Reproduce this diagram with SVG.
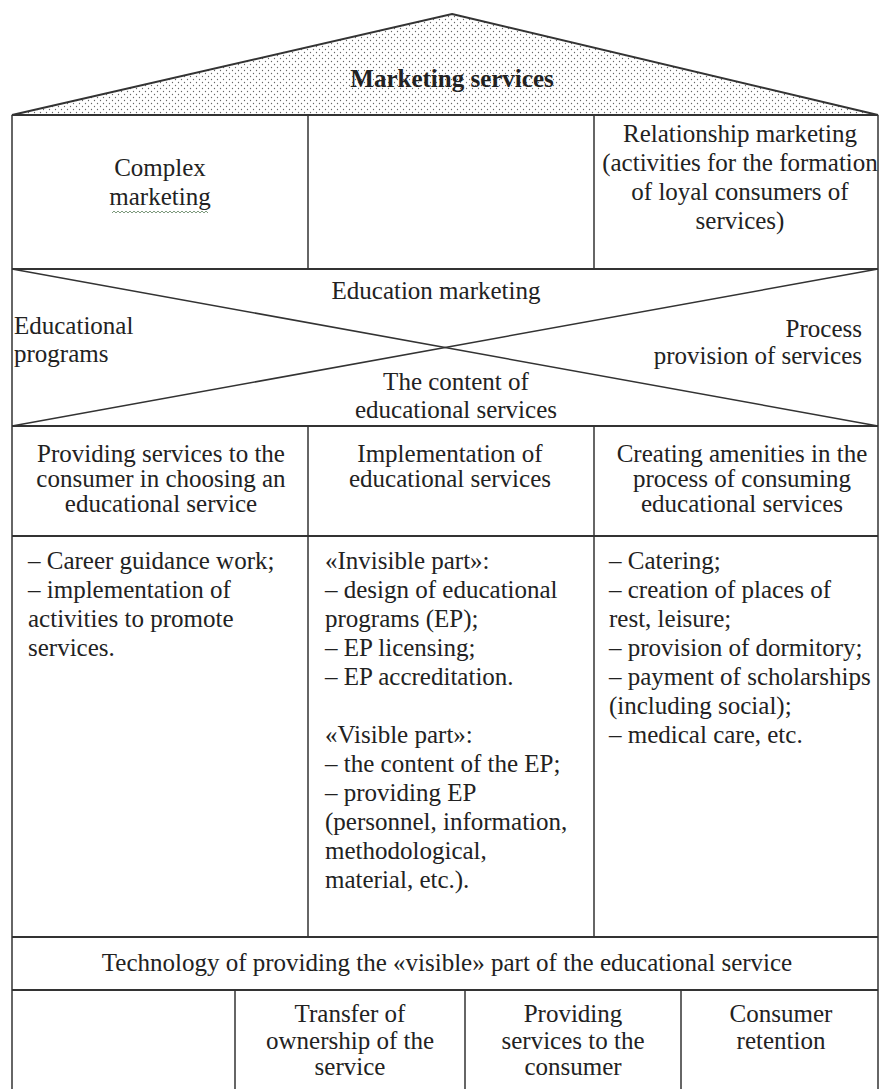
<svg xmlns="http://www.w3.org/2000/svg" width="880" height="1089" viewBox="0 0 880 1089">
<style>
text{font-family:"Liberation Serif","Times New Roman",serif;font-size:25px;fill:#222}
.c{text-anchor:middle}
.r{text-anchor:end}
.b{font-weight:bold}
.h{stroke:#333;stroke-width:2;fill:none}
.v{stroke:#333;stroke-width:1.5;fill:none}
</style>
<defs>
<pattern id="dots" width="6" height="6" patternUnits="userSpaceOnUse">
<rect width="6" height="6" fill="#fff"/>
<circle cx="1.5" cy="1.5" r="0.65" fill="#666"/>
<circle cx="4.5" cy="4.5" r="0.65" fill="#666"/>
</pattern>
</defs>
<rect width="880" height="1089" fill="#fff"/>

<g id="roof">
<polygon points="452,14 878,115 12,115" fill="url(#dots)" stroke="#333" stroke-width="2"/>
<text class="c b" x="452" y="87">Marketing services</text>
</g>

<g id="connectors">
<line class="v" x1="12" y1="115" x2="12" y2="1089"/>
<line class="v" x1="878" y1="115" x2="878" y2="1089"/>
<line class="h" x1="12" y1="269" x2="878" y2="269"/>
<line class="h" x1="12" y1="426" x2="878" y2="426"/>
<line class="h" x1="12" y1="536" x2="878" y2="536"/>
<line class="h" x1="12" y1="937" x2="878" y2="937"/>
<line class="h" x1="12" y1="990" x2="878" y2="990"/>
<line class="v" x1="308" y1="115" x2="308" y2="269"/>
<line class="v" x1="594" y1="115" x2="594" y2="269"/>
<line class="v" x1="308" y1="426" x2="308" y2="937"/>
<line class="v" x1="594" y1="426" x2="594" y2="937"/>
<line class="v" x1="235" y1="990" x2="235" y2="1089"/>
<line class="v" x1="465" y1="990" x2="465" y2="1089"/>
<line class="v" x1="681" y1="990" x2="681" y2="1089"/>
<line class="v" x1="12" y1="269" x2="878" y2="426"/>
<line class="v" x1="12" y1="426" x2="878" y2="269"/>
</g>

<g id="complex-marketing">
<text class="c" x="160" y="176">Complex</text>
<text class="c" x="160" y="205">marketing</text>
<path d="M112,213 l2,-2 l2,2 l2,-2 l2,2 l2,-2 l2,2 l2,-2 l2,2 l2,-2 l2,2 l2,-2 l2,2 l2,-2 l2,2 l2,-2 l2,2 l2,-2 l2,2 l2,-2 l2,2 l2,-2 l2,2 l2,-2 l2,2 l2,-2 l2,2 l2,-2 l2,2 l2,-2 l2,2 l2,-2 l2,2 l2,-2 l2,2 l2,-2 l2,2 l2,-2 l2,2 l2,-2 l2,2 l2,-2 l2,2 l2,-2 l2,2 l2,-2 l2,2 l2,-2 l2,2" fill="none" stroke="#7d9a7d" stroke-width="1"/>
</g>

<g id="relationship-marketing">
<text class="c" x="740" y="142">Relationship marketing</text>
<text class="c" x="740" y="171">(activities for the formation</text>
<text class="c" x="740" y="200">of loyal consumers of</text>
<text class="c" x="740" y="229">services)</text>
</g>

<g id="education-marketing">
<text class="c" x="436" y="299">Education marketing</text>
<text x="14" y="334">Educational</text>
<text x="14" y="362">programs</text>
<text class="r" x="862" y="337">Process</text>
<text class="r" x="862" y="364">provision of services</text>
<text class="c" x="456" y="390">The content of</text>
<text class="c" x="456" y="418">educational services</text>
</g>

<g id="providing-services">
<text class="c" x="161" y="462">Providing services to the</text>
<text class="c" x="161" y="487">consumer in choosing an</text>
<text class="c" x="161" y="512">educational service</text>
</g>

<g id="implementation">
<text class="c" x="450" y="462">Implementation of</text>
<text class="c" x="450" y="487">educational services</text>
</g>

<g id="creating-amenities">
<text class="c" x="742" y="462">Creating amenities in the</text>
<text class="c" x="742" y="487">process of consuming</text>
<text class="c" x="742" y="512">educational services</text>
</g>

<g id="list-providing">
<text x="28" y="569">– Career guidance work;</text>
<text x="28" y="598">– implementation of</text>
<text x="28" y="627">activities to promote</text>
<text x="28" y="656">services.</text>
</g>

<g id="list-implementation">
<text x="325" y="569">«Invisible part»:</text>
<text x="325" y="598">– design of educational</text>
<text x="325" y="627">programs (EP);</text>
<text x="325" y="656">– EP licensing;</text>
<text x="325" y="685">– EP accreditation.</text>
<text x="325" y="743">«Visible part»:</text>
<text x="325" y="772">– the content of the EP;</text>
<text x="325" y="801">– providing EP</text>
<text x="325" y="830">(personnel, information,</text>
<text x="325" y="859">methodological,</text>
<text x="325" y="888">material, etc.).</text>
</g>

<g id="list-amenities">
<text x="609" y="569">– Catering;</text>
<text x="609" y="598">– creation of places of</text>
<text x="609" y="627">rest, leisure;</text>
<text x="609" y="656">– provision of dormitory;</text>
<text x="609" y="685">– payment of scholarships</text>
<text x="609" y="714">(including social);</text>
<text x="609" y="743">– medical care, etc.</text>
</g>

<g id="technology">
<text class="c" x="447" y="971">Technology of providing the «visible» part of the educational service</text>
</g>

<g id="transfer-ownership">
<text class="c" x="350" y="1022">Transfer of</text>
<text class="c" x="350" y="1049">ownership of the</text>
<text class="c" x="350" y="1075">service</text>
</g>

<g id="providing-consumer">
<text class="c" x="573" y="1022">Providing</text>
<text class="c" x="573" y="1049">services to the</text>
<text class="c" x="573" y="1075">consumer</text>
</g>

<g id="consumer-retention">
<text class="c" x="781" y="1022">Consumer</text>
<text class="c" x="781" y="1049">retention</text>
</g>
</svg>
